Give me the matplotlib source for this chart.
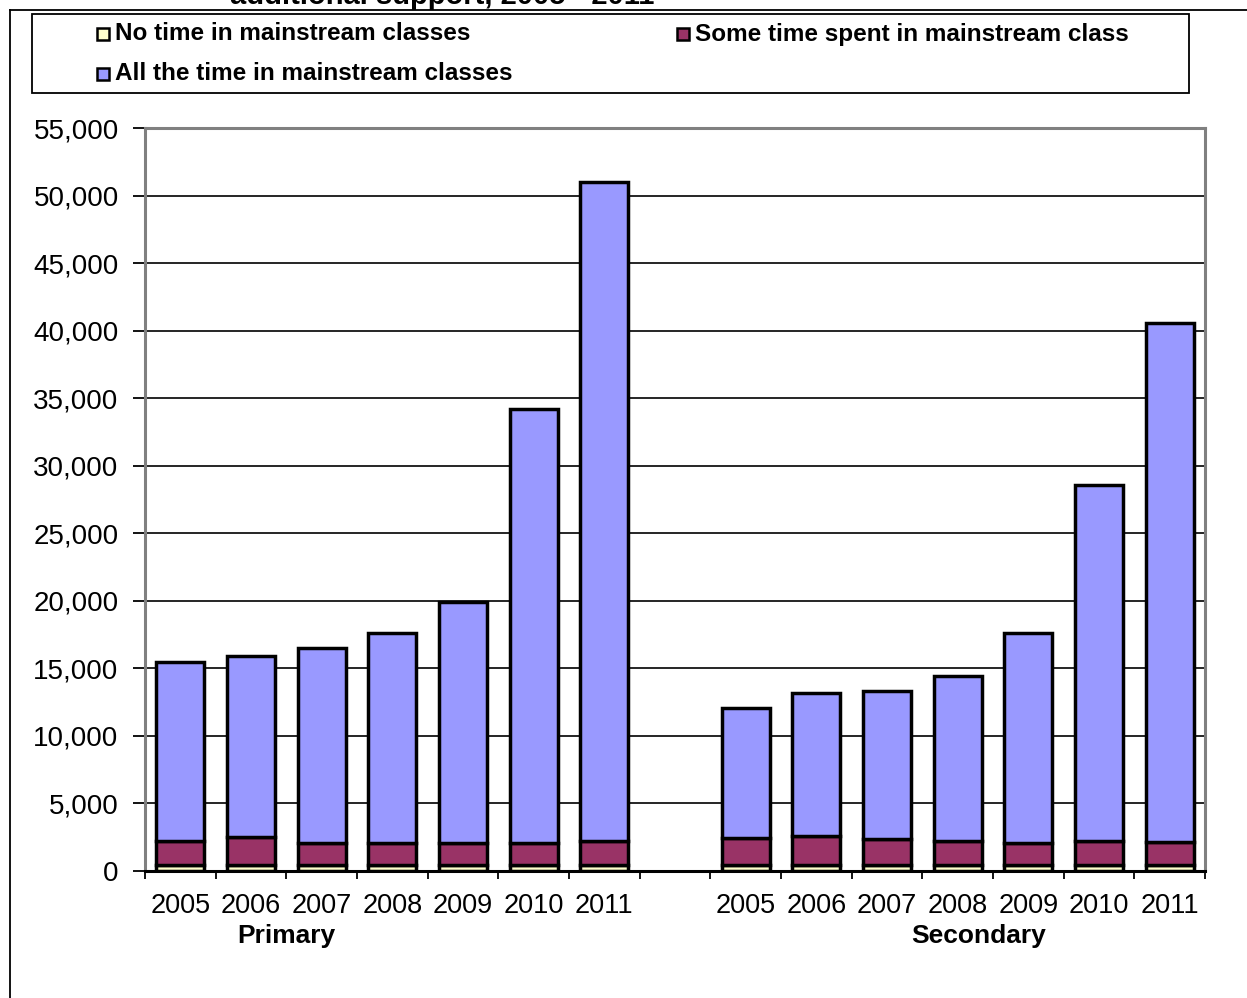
import matplotlib
matplotlib.use("Agg")
import matplotlib.pyplot as plt
import matplotlib.patches as mpatches
from matplotlib.lines import Line2D
from matplotlib.ticker import FuncFormatter, FixedLocator

plt.rcParams['font.family'] = ['Liberation Sans', 'DejaVu Sans']

years = ["2005", "2006", "2007", "2008", "2009", "2010", "2011"]
groups = ["Primary", "Secondary"]

# pupils by time in mainstream classes
primary_none = [450, 450, 450, 450, 450, 450, 450]
primary_some = [1770, 2050, 1600, 1600, 1600, 1600, 1780]
primary_total = [15500, 15900, 16500, 17600, 19900, 34200, 51000]

secondary_none = [450, 450, 450, 450, 450, 450, 450]
secondary_some = [2020, 2120, 1920, 1770, 1620, 1770, 1700]
secondary_total = [12100, 13200, 13300, 14400, 17600, 28600, 40600]

labels = ["No time in mainstream classes",
          "Some time spent in mainstream class",
          "All the time in mainstream classes"]
colours = ["#FFFFCC", "#993366", "#9999FF"]

W, H = 1247, 998
fig = plt.figure(figsize=(W / 100, H / 100), dpi=100)
ax = fig.add_axes([145 / W, 1 - 871 / H, (1205 - 145) / W, (871 - 128) / H])

pos_p = list(range(7))
pos_s = list(range(8, 15))
for pos, none, some, total in [(pos_p, primary_none, primary_some, primary_total),
                               (pos_s, secondary_none, secondary_some, secondary_total)]:
    all_time = [t - n - s for t, n, s in zip(total, none, some)]
    bottom2 = [n + s for n, s in zip(none, some)]
    kw = dict(width=0.68, edgecolor="black", linewidth=2.5, zorder=3)
    ax.bar(pos, none, color=colours[0], **kw)
    ax.bar(pos, some, bottom=none, color=colours[1], **kw)
    ax.bar(pos, all_time, bottom=bottom2, color=colours[2], **kw)

ax.set_xlim(-0.5, 14.5)
ax.set_ylim(0, 55000)
ax.set_yticks(range(0, 55001, 5000))
ax.yaxis.set_major_formatter(FuncFormatter(lambda v, p: f"{int(v):,}"))
ax.grid(axis="y", color="black", linewidth=1.2, zorder=0)
ax.set_axisbelow(True)

ax.xaxis.set_major_locator(FixedLocator([i - 0.5 for i in range(16)]))
ax.xaxis.set_major_formatter(FuncFormatter(lambda v, p: ""))
ax.xaxis.set_minor_locator(FixedLocator(pos_p + pos_s))
ax.set_xticklabels(years + years, minor=True)
ax.tick_params(axis="x", which="major", length=6, width=1.3, color="black", direction="out")
ax.tick_params(axis="x", which="minor", length=0, pad=16, labelsize=19.5)
ax.tick_params(axis="y", length=9, width=1.3, color="black", direction="out", pad=10, labelsize=20)

for side in ["top", "right", "left"]:
    ax.spines[side].set_color("#808080")
    ax.spines[side].set_linewidth(2.2)
ax.spines["bottom"].set_color("black")
ax.spines["bottom"].set_linewidth(2.2)
ax.spines["bottom"].set_zorder(4)

ax.text(1.5, -0.088, groups[0], transform=ax.get_xaxis_transform(),
        ha="center", va="center", fontsize=19, fontweight="bold")
ax.text(11.3, -0.088, groups[1], transform=ax.get_xaxis_transform(),
        ha="center", va="center", fontsize=19, fontweight="bold")

# title (cut off at the top of the image, as in the source)
fig.text(442 / W, 1 - 4 / H, "additional support, 2005 - 2011", ha="center",
         va="baseline", fontsize=21, fontweight="bold")

# outer frame
fig.add_artist(Line2D([10 / W, 10 / W], [0, 1 - 10 / H], color="black", lw=1.3))
fig.add_artist(Line2D([10 / W, 1], [1 - 10 / H, 1 - 10 / H], color="black", lw=1.3))

# legend box
fig.add_artist(mpatches.Rectangle((32 / W, 1 - 93 / H), (1189 - 32) / W, (93 - 14) / H,
                                  transform=fig.transFigure, facecolor="white",
                                  edgecolor="black", lw=1.3))
entries = [(97, 34), (677, 34), (97, 74)]
for (x, y), lab, col in zip(entries, labels, colours):
    fig.add_artist(mpatches.Rectangle((x / W, 1 - (y + 6) / H), 12 / W, 12 / H,
                                      transform=fig.transFigure, facecolor=col,
                                      edgecolor="black", lw=1.8))
    fig.text((x + 18) / W, 1 - y / H, lab, ha="left", va="center",
             fontsize=17.5, fontweight="bold")

fig.savefig("out.png", dpi=100)
